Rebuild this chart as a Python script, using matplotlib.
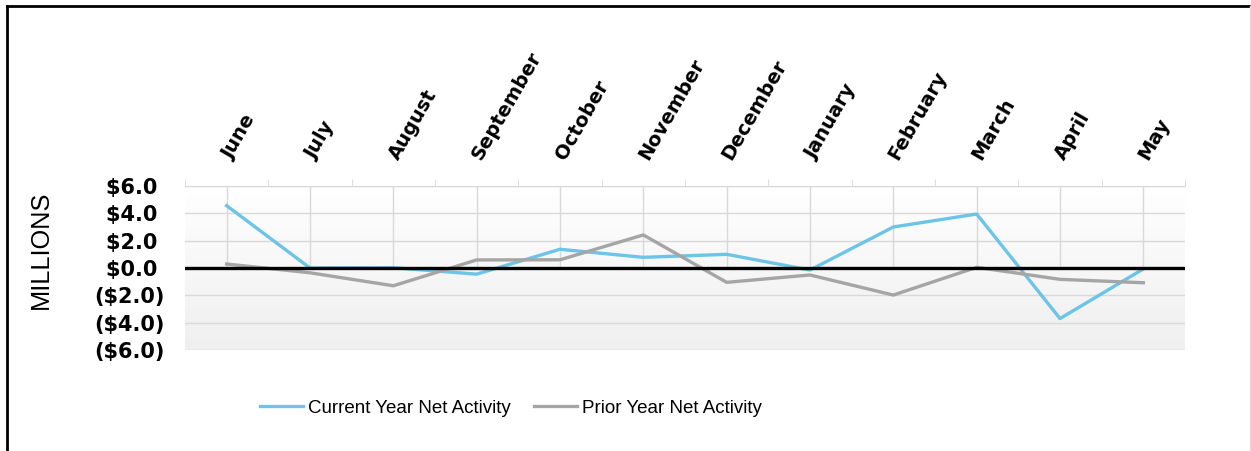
import numpy as np
import matplotlib
matplotlib.use('Agg')
import matplotlib.pyplot as plt
from matplotlib.lines import Line2D

months  = ['June', 'July', 'August', 'September', 'October', 'November',
           'December', 'January', 'February', 'March', 'April', 'May']
current = [4.56, 0.0, 0.02, -0.45, 1.37, 0.78, 1.0, -0.15, 3.0, 3.95, -3.7, -0.07]
prior   = [0.29, -0.35, -1.3, 0.59, 0.6, 2.42, -1.05, -0.51, -1.98, 0.05, -0.83, -1.08]
yticks  = [6, 4, 2, 0, -2, -4, -6]
ylabels = ['$6.0 ', '$4.0 ', '$2.0 ', '$0.0 ', '($2.0)', '($4.0)', '($6.0)']

blue = '#6CC4E6'
grey = '#A5A5A5'
gridc = '#D9D9D9'

fig = plt.figure(figsize=(12.51, 4.51), dpi=100)
ax  = fig.add_axes([185/1251, 1-350/451, 1000/1251, 164/451])

x = np.arange(len(months))
ax.set_xlim(-0.5, len(months)-0.5)
ax.set_ylim(-6, 6)

# soft vertical gradient behind the plot
grad = np.linspace(0, 1, 100).reshape(-1, 1)
ax.imshow(grad, extent=[-0.5, len(months)-0.5, -6, 6], aspect='auto',
          cmap=matplotlib.colors.LinearSegmentedColormap.from_list('g', ['#EFEFEF', '#FFFFFF']),
          origin='lower', zorder=0)

for yv in yticks :
  ax.axhline(yv, color=gridc, lw=1, zorder=1)
ax.vlines(x, 0, 6, color=gridc, lw=1, zorder=1)

ax.plot(x, current, color=blue, lw=2.4, zorder=3, label='Current Year Net Activity')
ax.plot(x, prior,   color=grey, lw=2.4, zorder=3, label='Prior Year Net Activity')
ax.axhline(0, color='black', lw=2.4, zorder=4)

for s in ['left', 'right', 'bottom'] :
  ax.spines[s].set_visible(False)
ax.spines['top'].set_color(gridc)

ax.xaxis.tick_top()
ax.set_xticks(x)
ax.set_xticks(np.arange(-0.5, len(months)), minor=True)
ax.tick_params(axis='x', which='major', length=0, pad=20)
ax.tick_params(axis='x', which='minor', length=5, color=gridc, top=True, bottom=False)
ax.set_xticklabels(months, rotation=60, ha='left', va='center', rotation_mode='anchor',
                   fontsize=14, fontweight='bold', family='DejaVu Sans')

ax.set_yticks(yticks)
ax.set_yticklabels(ylabels, fontsize=15, fontweight='bold', family='DejaVu Sans')
ax.tick_params(axis='y', length=0, pad=15)

fig.text(41/1251, 1-250/451, 'MILLIONS', rotation=90, ha='center', va='center',
         fontsize=18.3, family='Liberation Sans')

fig.legend(loc='center', bbox_to_anchor=(511/1251, 1-408/451), ncol=2, frameon=False,
           prop={'family': 'Liberation Sans', 'size': 13.5},
           handlelength=2.3, handletextpad=0.3, columnspacing=1.2)

# outer frame (top and left edges)
fig.add_artist(Line2D([7/1251, 1], [1-5.5/451, 1-5.5/451], color='black', lw=2, transform=fig.transFigure))
fig.add_artist(Line2D([7/1251, 7/1251], [0, 1-5.5/451], color='black', lw=2, transform=fig.transFigure))
fig.add_artist(Line2D([1250/1251, 1250/1251], [0, 1-5.5/451], color='#E0E0E0', lw=1, transform=fig.transFigure))

plt.savefig('out.png', dpi=100)
